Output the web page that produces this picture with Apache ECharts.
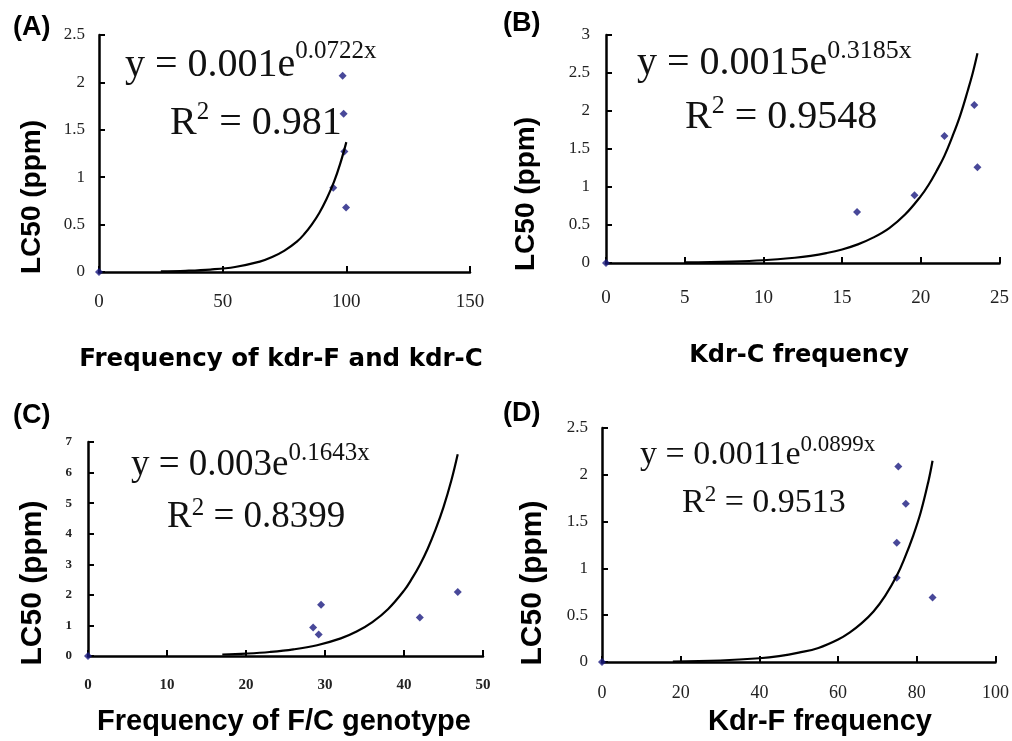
<!DOCTYPE html>
<html>
<head>
<meta charset="utf-8">
<title>LC50 vs kdr frequency</title>
<script src="https://cdn.jsdelivr.net/npm/echarts@6/dist/echarts.min.js"></script>
<style>
  html, body { margin: 0; padding: 0; background: #fff; }
  #chart { width: 1012px; height: 741px; }
</style>
</head>
<body>
<div id="chart"></div>
<script>
// (A) frequency of kdr-F and kdr-C
const aFreq = [0, 94.7, 98.5, 98.9, 99.2, 99.9];
const aLC50 = [0, 0.89, 2.07, 1.67, 1.27, 0.68];
const aTrendX = [25, 35, 45, 55, 65, 70, 75, 80, 83, 86, 89, 92, 95, 97.5, 100];
const aTrendY = [0.006, 0.0125, 0.026, 0.053, 0.109, 0.157, 0.225, 0.32, 0.40, 0.50, 0.62, 0.77, 0.95, 1.14, 1.37];

// (B) Kdr-C frequency
const bFreq = [0, 15.95, 19.6, 21.5, 23.4, 23.6];
const bLC50 = [0, 0.67, 0.89, 1.67, 2.08, 1.26];
const bTrendX = [5, 8, 10, 12, 13, 14, 15, 16, 17, 18, 19, 20, 20.5, 21, 21.5, 22, 22.5, 23, 23.3, 23.6];
const bTrendY = [0.007, 0.019, 0.036, 0.069, 0.094, 0.13, 0.178, 0.245, 0.337, 0.46, 0.637, 0.88, 1.03, 1.21, 1.41, 1.66, 1.94, 2.28, 2.50, 2.76];

// (C) frequency of F/C genotype
const cFreq = [0, 28.5, 29.2, 29.5, 42.0, 46.8];
const cLC50 = [0, 0.93, 0.70, 1.68, 1.26, 2.09];
const cTrendX = [17, 20, 23, 26, 29, 32, 34, 36, 38, 40, 41, 42, 43, 44, 45, 46, 46.8];
const cTrendY = [0.049, 0.08, 0.131, 0.215, 0.352, 0.576, 0.80, 1.11, 1.54, 2.14, 2.53, 2.98, 3.51, 4.14, 4.87, 5.75, 6.6];

// (D) Kdr-F frequency
const dFreq = [0, 74.9, 74.9, 75.3, 77.2, 84.0];
const dLC50 = [0, 0.90, 1.275, 2.09, 1.69, 0.69];
const dTrendX = [18, 30, 40, 45, 50, 55, 60, 63, 66, 69, 72, 75, 77, 79, 81, 83, 84];
const dTrendY = [0.005, 0.016, 0.04, 0.063, 0.10, 0.15, 0.24, 0.317, 0.415, 0.54, 0.71, 0.93, 1.12, 1.34, 1.60, 1.94, 2.15];

// axis ranges: [min, max, interval]
const xRanges = [[0, 150, 50], [0, 25, 5], [0, 50, 10], [0, 100, 20]];
const yRanges = [[0, 2.5, 0.5], [0, 3, 0.5], [0, 7, 1], [0, 2.5, 0.5]];

const panelLabels = ['(A)', '(B)', '(C)', '(D)'];
const xTitles = ['Frequency of kdr-F and kdr-C', 'Kdr-C frequency', 'Frequency of F/C genotype', 'Kdr-F frequency'];
const yTitle = 'LC50 (ppm)';
const eqCoef = ['0.001e', '0.0015e', '0.003e', '0.0011e'];
const eqExp = ['0.0722x', '0.3185x', '0.1643x', '0.0899x'];
const eqR2 = ['0.981', '0.9548', '0.8399', '0.9513'];

const points = [[aFreq, aLC50], [bFreq, bLC50], [cFreq, cLC50], [dFreq, dLC50]];
const trends = [[aTrendX, aTrendY], [bTrendX, bTrendY], [cTrendX, cTrendY], [dTrendX, dTrendY]];

const grids = [
  { left: 99, top: 35, width: 371, height: 237 },
  { left: 606, top: 35, width: 394, height: 228 },
  { left: 88, top: 442, width: 395, height: 214 },
  { left: 602, top: 428, width: 394, height: 234 },
];

// per-panel text look
const tickFont = [
  { x: 19, y: 17, weight: 'normal', xMargin: 21, yMargin: 14 },
  { x: 19, y: 17, weight: 'normal', xMargin: 26, yMargin: 16 },
  { x: 15, y: 13, weight: 'bold', xMargin: 22, yMargin: 16 },
  { x: 18, y: 17, weight: 'normal', xMargin: 22, yMargin: 14 },
];
// equation lines: main text centre, superscript lift
const eqLayout = [
  { x: 125, y: 65, x2: 170, y2: 123, size: 40, exp: 25, lift: 14, lift2: 11 },
  { x: 637, y: 63, x2: 685, y2: 117, size: 40, exp: 26, lift: 12, lift2: 11 },
  { x: 131, y: 465, x2: 167, y2: 517, size: 37, exp: 25, lift: 12, lift2: 9 },
  { x: 640, y: 455, x2: 682, y2: 503, size: 34, exp: 23, lift: 10, lift2: 8 },
];
const labelPos = [[13, 28], [503, 24], [13, 416], [503, 414]];
const xTitlePos = [[281, 360], [799, 356], [284, 722], [820, 722]];
const xTitleFont = [
  { family: 'DejaVu Sans', size: 24.5 },
  { family: 'DejaVu Sans', size: 24 },
  { family: 'Liberation Sans', size: 29 },
  { family: 'Liberation Sans', size: 29 },
];
const yTitlePos = [[32, 197], [526, 194], [33, 583], [533, 583]];
const yTitleSize = [28, 28, 30, 30];

const axisColor = '#000';
const markColor = '#1a1a80';
const serif = '"Liberation Serif", "DejaVu Serif", serif';

const measure = document.createElement('canvas').getContext('2d');
function textWidth(text, size) {
  measure.font = size + 'px ' + serif;
  return measure.measureText(text).width;
}

const xAxes = xRanges.map((r, i) => ({
  type: 'value',
  gridIndex: i,
  min: r[0], max: r[1], interval: r[2],
  axisLine: { show: true, onZero: false, lineStyle: { color: axisColor, width: 2.5 } },
  axisTick: { show: true, inside: true, length: 6, lineStyle: { color: axisColor, width: 2 } },
  axisLabel: {
    color: '#222', fontFamily: serif, fontSize: tickFont[i].x,
    fontWeight: tickFont[i].weight, margin: tickFont[i].xMargin,
  },
  splitLine: { show: false },
}));

const yAxes = yRanges.map((r, i) => ({
  type: 'value',
  gridIndex: i,
  min: r[0], max: r[1], interval: r[2],
  axisLine: { show: true, onZero: false, lineStyle: { color: axisColor, width: 2.5 } },
  axisTick: { show: true, inside: true, length: 6, lineStyle: { color: axisColor, width: 2 } },
  axisLabel: {
    color: '#222', fontFamily: serif, fontSize: tickFont[i].y,
    fontWeight: tickFont[i].weight, margin: tickFont[i].yMargin,
  },
  splitLine: { show: false },
}));

const series = [];
points.forEach((p, i) => {
  series.push({
    type: 'scatter',
    xAxisIndex: i, yAxisIndex: i,
    symbol: 'diamond',
    symbolSize: 8,
    itemStyle: { color: markColor },
    data: p[0].map((x, k) => [x, p[1][k]]),
    z: 3,
  });
});
trends.forEach((t, i) => {
  series.push({
    type: 'line',
    xAxisIndex: i, yAxisIndex: i,
    smooth: 0.4,
    showSymbol: false,
    lineStyle: { color: '#000', width: 2.2 },
    data: t[0].map((x, k) => [x, t[1][k]]),
    z: 4,
  });
});

function serifText(text, x, y, size) {
  return {
    type: 'text', x: x, y: y,
    style: { text: text, fill: '#111', fontFamily: serif, fontSize: size, align: 'left', verticalAlign: 'middle' },
  };
}

const graphic = [];
eqLayout.forEach((e, i) => {
  const main = 'y = ' + eqCoef[i];
  graphic.push(serifText(main, e.x, e.y, e.size));
  graphic.push(serifText(eqExp[i], e.x + textWidth(main, e.size), e.y - e.lift, e.exp));

  const rW = textWidth('R', e.size);
  const twoW = textWidth('2', e.exp);
  graphic.push(serifText('R', e.x2, e.y2, e.size));
  graphic.push(serifText('2', e.x2 + rW, e.y2 - e.lift2, e.exp));
  graphic.push(serifText(' = ' + eqR2[i], e.x2 + rW + twoW, e.y2, e.size));
});
panelLabels.forEach((t, i) => {
  graphic.push({
    type: 'text', x: labelPos[i][0], y: labelPos[i][1],
    style: {
      text: t, fill: '#000', fontFamily: '"Liberation Sans", Arial, sans-serif',
      fontWeight: 'bold', fontSize: 27, verticalAlign: 'middle', align: 'left',
    },
  });
});
xTitles.forEach((t, i) => {
  graphic.push({
    type: 'text', x: xTitlePos[i][0], y: xTitlePos[i][1],
    style: {
      text: t, fill: '#000', fontFamily: '"' + xTitleFont[i].family + '", sans-serif',
      fontWeight: 'bold', fontSize: xTitleFont[i].size, align: 'center', verticalAlign: 'middle',
    },
  });
});
yTitlePos.forEach((p, i) => {
  graphic.push({
    type: 'text', x: p[0], y: p[1], rotation: Math.PI / 2,
    style: {
      text: yTitle, fill: '#000', fontFamily: '"Liberation Sans", Arial, sans-serif',
      fontWeight: 'bold', fontSize: yTitleSize[i], align: 'center', verticalAlign: 'middle',
    },
  });
});

const chart = echarts.init(document.getElementById('chart'));
chart.setOption({
  animation: false,
  backgroundColor: '#fff',
  grid: grids,
  xAxis: xAxes,
  yAxis: yAxes,
  series: series,
  graphic: graphic,
});
</script>
</body>
</html>
